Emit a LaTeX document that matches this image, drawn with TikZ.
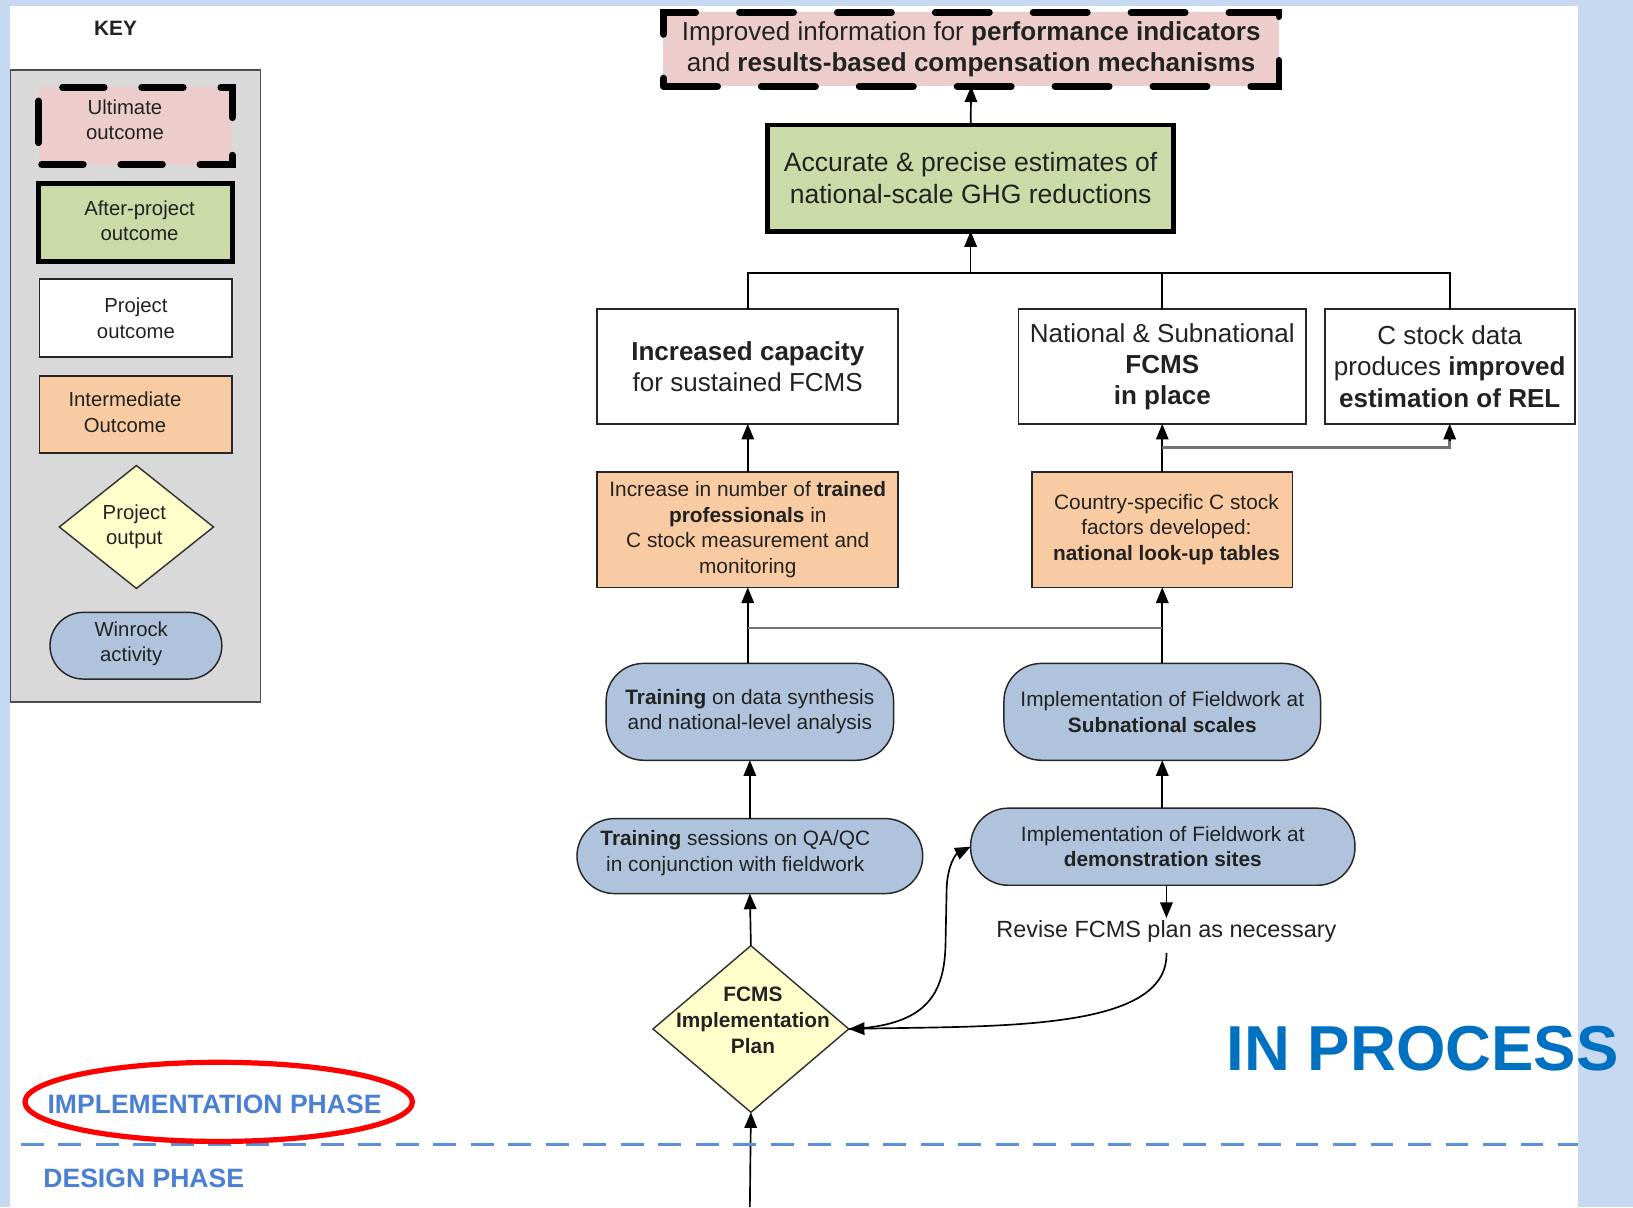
\documentclass[tikz,border=0pt]{standalone}
\usepackage{fontspec}
\setmainfont{Liberation Sans}
\usetikzlibrary{shapes.geometric,arrows.meta}
\definecolor{frameblue}{HTML}{C6D9F0}
\definecolor{pinkc}{HTML}{EDCCCC}
\definecolor{greenc}{HTML}{CADBA8}
\definecolor{orangec}{HTML}{F9CBA2}
\definecolor{yellowc}{HTML}{FFFFCC}
\definecolor{actblue}{HTML}{AFC3DD}
\definecolor{keygray}{HTML}{D9D9D9}
\definecolor{txt}{HTML}{222222}
\definecolor{procblue}{HTML}{0070C0}
\definecolor{phaseblue}{HTML}{4A80D4}
\definecolor{dashblue}{HTML}{5B8FDB}
\tikzset{
  base/.style={align=center, inner sep=0pt, outer sep=0pt, text=txt},
  ultbox/.style={base, fill=pinkc, draw=black, line width=6.5pt, dash pattern=on 52pt off 42pt, line cap=round},
  grnbox/.style={base, fill=greenc, draw=black, line width=4.5pt},
  whtbox/.style={base, fill=white, draw=black!85, line width=1.6pt},
  orgbox/.style={base, fill=orangec, draw=black!85, line width=1.6pt},
  actbox/.style={base, fill=actblue, draw=black!85, line width=1.4pt, rounded corners=36pt},
  planbox/.style={base, shape=diamond, fill=yellowc, draw=black!80, line width=1.4pt},
  arr/.style={-{Triangle[length=15pt,width=12pt]}, line width=1.6pt, black},
  plain/.style={line width=1.6pt, black},
  grayln/.style={line width=2.6pt, black!55},
  bigf/.style={font=\fontsize{25}{30}\selectfont},
  grnf/.style={font=\fontsize{25.5}{30}\selectfont},
  midf/.style={font=\fontsize{20}{24.5}\selectfont},
  keyf/.style={font=\fontsize{19.5}{24.5}\selectfont},
}
\begin{document}
\begin{tikzpicture}[x=1pt,y=-1pt]
\useasboundingbox (0,0) rectangle (1568,1159);
% frame
\fill[frameblue] (0,0) rectangle (1568,1159);
\fill[white] (10,6) rectangle (1515,1159);

% KEY
\node[base, font=\fontsize{20}{24}\selectfont\bfseries] (keyt) at (111,27) {KEY};
\draw[fill=keygray, draw=black!70, line width=1.5pt] (10,67) rectangle (250,674);
\node[ultbox, keyf, minimum width=186pt, minimum height=74pt, dash pattern=on 40pt off 36pt, dash phase=-3pt] (k1) at (130,121) {};
\node[base, keyf] (k1t) at (120,115) {Ultimate\\outcome};
\node[grnbox, keyf, minimum width=186pt, minimum height=75pt] (k2) at (130,213.5) {};
\node[base, keyf] (k2t) at (134,212) {After-project\\outcome};
\node[whtbox, keyf, minimum width=185pt, minimum height=75pt] (k3) at (130.5,305.5) {Project\\outcome};
\node[orgbox, keyf, minimum width=185pt, minimum height=74pt] (k4) at (130.5,398) {};
\node[base, keyf] (k4t) at (120,396) {Intermediate\\Outcome};
\node[planbox, minimum width=148pt, minimum height=118pt] (k5) at (131,506) {};
\node[base, keyf] (k5t) at (129,506) {Project\\output};
\node[actbox, keyf, minimum width=165pt, minimum height=64pt, rounded corners=32pt] (k6) at (130.5,620) {};
\node[base, keyf] (k6t) at (126,618) {Winrock\\activity};

% main nodes
\node[ultbox, bigf, minimum width=591pt, minimum height=71pt] (ult) at (932.5,47.5)
  {Improved information for \textbf{performance indicators}\\and \textbf{results-based compensation mechanisms}};
\node[grnbox, grnf, minimum width=390pt, minimum height=102pt] (grn) at (932,171)
  {Accurate \& precise estimates of\\national-scale GHG reductions};
\node[whtbox, bigf, minimum width=289pt, minimum height=110pt] (cap) at (718,352)
  {\textbf{Increased capacity}\\for sustained FCMS};
\node[whtbox, bigf, minimum width=276pt, minimum height=110pt] (fcms) at (1116,352)
  {National \& Subnational\\\textbf{FCMS}\\\textbf{in place}};
\node[whtbox, bigf, minimum width=240pt, minimum height=110pt] (cst) at (1392,352)
  {C stock data\\produces \textbf{improved}\\\textbf{estimation of REL}};
\node[orgbox, midf, minimum width=289pt, minimum height=111pt] (or1) at (718,508.5)
  {Increase in number of \textbf{trained}\\\textbf{professionals} in\\C stock measurement and\\monitoring};
\node[orgbox, midf, minimum width=250pt, minimum height=111pt] (or2) at (1116,508.5)
  {\hspace*{8pt}Country-specific C stock\\\hspace*{8pt}factors developed:\\\hspace*{8pt}\textbf{national look-up tables}};
\node[actbox, midf, minimum width=276pt, minimum height=93pt] (trd) at (720,683.5)
  {\textbf{Training} on data synthesis\\and national-level analysis};
\node[actbox, midf, minimum width=304pt, minimum height=93pt] (sub) at (1116,683.5)
  {Implementation of Fieldwork at\\\textbf{Subnational scales}};
\node[actbox, midf, minimum width=332pt, minimum height=72pt] (qa) at (720,822) {};
\node[base, midf] (qat) at (706,819) {\textbf{Training} sessions on QA/QC\\in conjunction with fieldwork};
\node[actbox, midf, minimum width=369pt, minimum height=74pt] (demo) at (1116.5,813)
  {Implementation of Fieldwork at\\\textbf{demonstration sites}};
\node[planbox, minimum width=188pt, minimum height=160pt] (plan) at (721,988) {};
\node[base, font=\fontsize{20}{25}\selectfont\bfseries] (plant) at (723,980) {FCMS\\Implementation\\Plan};
\node[base, font=\fontsize{22.5}{26}\selectfont] (rev) at (1120,894) {Revise FCMS plan as necessary};

% connectors
\draw[arr] (grn.north) -- (ult.south);
\coordinate (j1) at (932,262);
\draw[arr] (j1) -- (grn.south);
\draw[plain] (cap.north) -- (cap.north |- j1) -- (cst.north |- j1) -- (cst.north);
\draw[plain] (fcms.north) -- (fcms.north |- j1);
\draw[arr] (or1.north) -- (cap.south);
\draw[arr] (or2.north) -- (fcms.south);
\coordinate (j2) at (1116,430);
\draw[grayln] (j2) -- (cst.south |- j2) -- ([yshift=-14pt]cst.south);
\draw[arr] ([yshift=-16pt]cst.south) -- (cst.south);
\draw[arr] (trd.north -| or1.south) -- (or1.south);
\draw[arr] (sub.north) -- (or2.south);
\coordinate (j3) at (718,603);
\draw[grayln] (j3) -- (sub.north |- j3);
\draw[arr] (qa.north) -- (trd.south);
\draw[arr] (demo.north -| sub.south) -- (sub.south);
\draw[arr] (demo.south -| rev.north) -- ([yshift=2pt]rev.north);
\coordinate (revb) at (1120,915);
\draw[arr] (revb) .. controls (1122,990) and (960,985) .. (plan.east);
\draw[arr] (plan.east) .. controls (895,985) and (908,950) .. (908,900) -- (909,852) .. controls (910,830) and (918,820) .. (demo.west);
\draw[arr] (plan.north) -- (qa.south);
\coordinate (bot) at (720,1159);
\draw[arr] (bot) -- (plan.south);

% phases
\draw[dashblue, line width=3pt, dash pattern=on 22pt off 14pt] (20,1099) -- (1515,1099);
\node[base, text=phaseblue, font=\fontsize{25.5}{30}\selectfont\bfseries] (impl) at (206,1060) {IMPLEMENTATION PHASE};
\draw[red, line width=5pt] (210,1058) ellipse [x radius=186pt, y radius=38pt];
\node[base, text=phaseblue, font=\fontsize{25.5}{30}\selectfont\bfseries] (des) at (138,1131) {DESIGN PHASE};
\node[base, text=procblue, font=\fontsize{61}{70}\selectfont\bfseries] (proc) at (1366,1007) {IN PROCESS};
\end{tikzpicture}
\end{document}
